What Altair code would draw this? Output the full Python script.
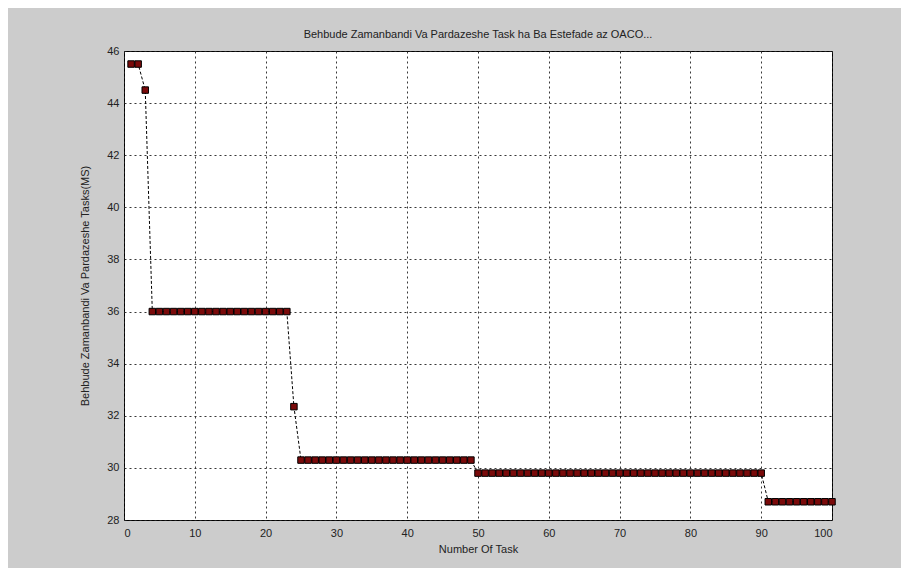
import altair as alt
import pandas as pd

# Values
task = list(range(1, 101))
segments = [
    (1, 2, 45.5),
    (3, 3, 44.5),
    (4, 23, 36.0),
    (24, 24, 32.35),
    (25, 49, 30.3),
    (50, 90, 29.8),
    (91, 100, 28.7),
]
ms = []
for t in task:
    for a, b, v in segments:
        if a <= t <= b:
            ms.append(v)
            break

df = pd.DataFrame({"task": task, "ms": ms})

FONT = "Liberation Sans"

x = alt.X("task:Q", title="Number Of Task",
          scale=alt.Scale(domain=[0, 100], nice=False),
          axis=alt.Axis(values=list(range(0, 101, 10)), format="d"))
y = alt.Y("ms:Q", title="Behbude Zamanbandi Va Pardazeshe Tasks(MS)",
          scale=alt.Scale(domain=[28, 46], nice=False, zero=False),
          axis=alt.Axis(values=list(range(28, 47, 2)), format="d"))

line = alt.Chart(df).mark_line(color="black", strokeWidth=1, strokeDash=[3, 2]).encode(x=x, y=y)
pts = alt.Chart(df).mark_point(shape="square", filled=True, fill="#7a0a0a",
                               stroke="black", strokeWidth=1, size=42, opacity=1).encode(x=x, y=y)

chart = (line + pts).properties(
    width=708, height=469,
    title=alt.TitleParams("Behbude Zamanbandi Va Pardazeshe Task ha Ba Estefade az OACO...",
                          font=FONT, fontSize=11, fontWeight="normal", color="#222",
                          offset=5, anchor="middle"),
    background="#cccccc",
    padding={"left": 116, "top": 43, "right": 69, "bottom": 48},
    autosize=alt.AutoSizeParams(type="none"),
).configure_view(
    stroke="black", strokeWidth=1, fill="white"
).configure_axis(
    labelFont=FONT, titleFont=FONT, labelFontSize=11, titleFontSize=11,
    labelColor="#222", titleColor="#222", titleFontWeight="normal",
    grid=True, gridColor="#222", gridDash=[2, 3], gridOpacity=0.9, gridWidth=1,
    ticks=False, domain=False,
).configure_axisX(
    labelPadding=7, titlePadding=5
).configure_axisY(
    labelPadding=5, titlePadding=16
)

chart.save("out.html", embed_options={"renderer": "svg", "actions": False})
